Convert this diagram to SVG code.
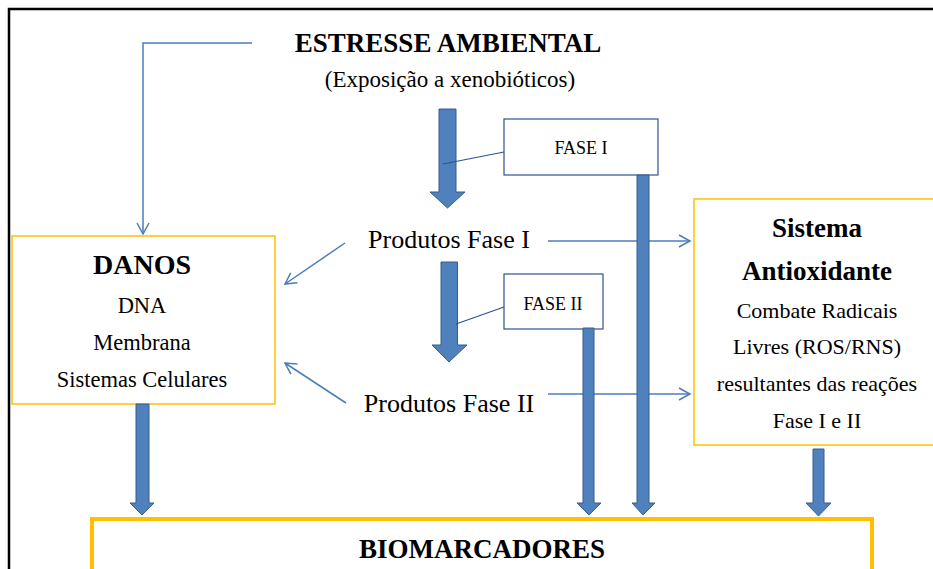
<svg xmlns="http://www.w3.org/2000/svg" width="933" height="569" viewBox="0 0 933 569">
<style>
.t{font-family:"Liberation Serif","Times New Roman",serif;fill:#000;text-anchor:middle}
.b{font-weight:bold}
.ybox{fill:#fff;stroke:#FFC000;stroke-width:1.5}
.bbox{fill:#fff;stroke:#2F528F;stroke-width:1.2}
.thin{fill:none;stroke:#4A7EBB;stroke-width:1.5}
.fat{fill:#4F81BD;stroke:#385D8A;stroke-width:1}
</style>
<defs>
<marker id="open" markerWidth="14" markerHeight="14" refX="12" refY="7" orient="auto" markerUnits="userSpaceOnUse">
<path d="M1,1 L12,7 L1,13" fill="none" stroke="#4A7EBB" stroke-width="1.5"/>
</marker>
</defs>
<rect width="933" height="569" fill="#fff"/>
<path d="M9,569 V9 H933" fill="none" stroke="#000" stroke-width="2.5"/>

<g id="estresse">
<text class="t b" x="448" y="52" font-size="27">ESTRESSE AMBIENTAL</text>
<text class="t" x="450" y="87" font-size="23">(Exposição a xenobióticos)</text>
</g>

<g id="danos">
<rect class="ybox" x="12" y="236" width="263" height="168"/>
<text class="t b" x="142" y="274" font-size="28">DANOS</text>
<text class="t" x="142" y="313" font-size="22.5">DNA</text>
<text class="t" x="142" y="350" font-size="22.5">Membrana</text>
<text class="t" x="142" y="387" font-size="22.5">Sistemas Celulares</text>
</g>

<g id="fase1">
<rect class="bbox" x="504" y="119" width="154" height="56"/>
<text class="t" x="581" y="154" font-size="18">FASE I</text>
</g>

<g id="fase2">
<rect class="bbox" x="504" y="274" width="99" height="55"/>
<text class="t" x="553" y="310" font-size="18">FASE II</text>
</g>

<g id="produtos1">
<text class="t" x="449" y="248" font-size="26">Produtos Fase I</text>
</g>

<g id="produtos2">
<text class="t" x="449" y="412" font-size="26">Produtos Fase II</text>
</g>

<g id="sistema">
<rect class="ybox" x="694" y="199" width="240" height="246"/>
<text class="t b" x="817" y="237" font-size="27">Sistema</text>
<text class="t b" x="817" y="280" font-size="27">Antioxidante</text>
<text class="t" x="817" y="318" font-size="22">Combate Radicais</text>
<text class="t" x="817" y="354" font-size="22">Livres (ROS/RNS)</text>
<text class="t" x="817" y="391" font-size="22">resultantes das reações</text>
<text class="t" x="817" y="428" font-size="22">Fase I e II</text>
</g>

<g id="biomarcadores">
<rect x="92" y="519" width="780" height="80" fill="#fff" stroke="#FFC000" stroke-width="4"/>
<text class="t b" x="482" y="558" font-size="27">BIOMARCADORES</text>
</g>

<g id="connectors">
<path class="thin" d="M252,43 H143 V234" marker-end="url(#open)"/>
<path class="thin" d="M345,243 L285,284" marker-end="url(#open)"/>
<path class="thin" d="M346,403 L285,363" marker-end="url(#open)"/>
<path class="thin" d="M548,241 H690" marker-end="url(#open)"/>
<path class="thin" d="M548,394 H690" marker-end="url(#open)"/>
<path class="fat" d="M439,109 H456 V192 H465 L447.5,208 L430,192 H439 Z"/>
<path class="fat" d="M441,262 H457.5 V345 H467 L449,362 L432,345 H441 Z"/>
<path class="fat" d="M637,175 H649 V503 H655 L643,515 L632,503 H637 Z"/>
<path class="fat" d="M583,328 H594 V503 H601 L589,515 L577,503 H583 Z"/>
<path class="fat" d="M136,404 H149 V503 H154 L142,515 L130,503 H136 Z"/>
<path class="fat" d="M813,449 H824 V503 H831 L818.5,516 L806,503 H813 Z"/>
<path d="M504,152 L443,164" fill="none" stroke="#2F528F" stroke-width="1.2"/>
<path d="M504,307 L456,324" fill="none" stroke="#2F528F" stroke-width="1.2"/>
</g>
</svg>
